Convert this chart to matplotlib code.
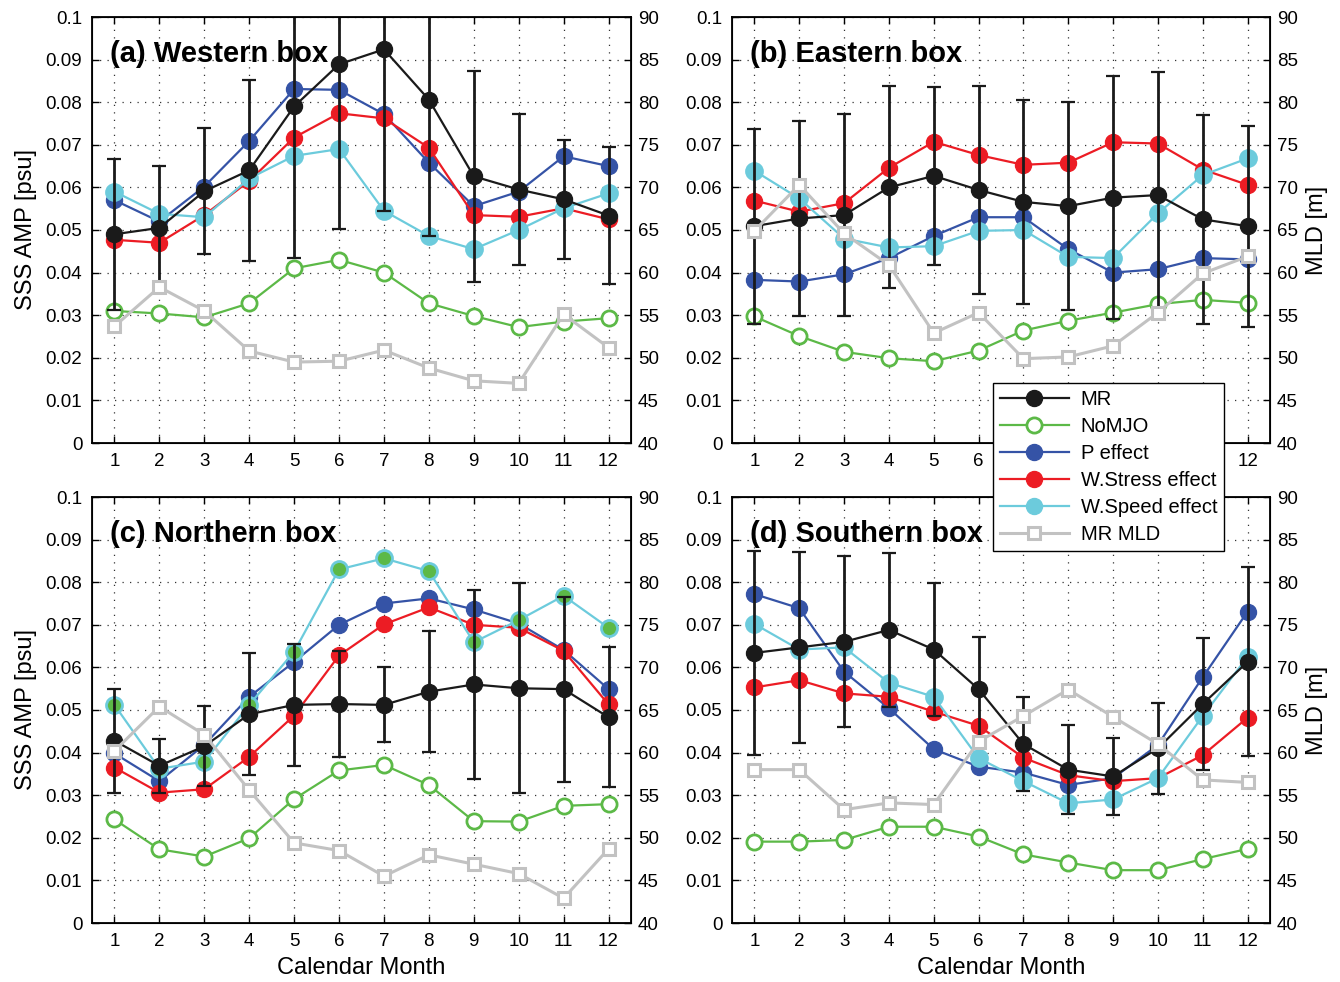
import numpy as np
import matplotlib
matplotlib.use("Agg")
import matplotlib.pyplot as plt
from matplotlib.lines import Line2D

plt.rcParams['font.family'] = ['Liberation Sans', 'DejaVu Sans']

months = np.arange(1, 13)

# ---- (a) Western box ----
mr_w = [0.0490, 0.0505, 0.0591, 0.0640, 0.0790, 0.0889, 0.0924, 0.0806, 0.0626, 0.0595, 0.0572, 0.0534]
mr_std_w = [0.0177, 0.0145, 0.0148, 0.0212, 0.0356, 0.0387, 0.0380, 0.0320, 0.0247, 0.0178, 0.0139, 0.0160]
nomjo_w = [0.0310, 0.0304, 0.0295, 0.0328, 0.0410, 0.0430, 0.0400, 0.0328, 0.0298, 0.0272, 0.0285, 0.0293]
peff_w = [0.0570, 0.0520, 0.0602, 0.0709, 0.0831, 0.0829, 0.0772, 0.0658, 0.0556, 0.0590, 0.0673, 0.0650]
wstress_w = [0.0477, 0.0470, 0.0535, 0.0615, 0.0717, 0.0774, 0.0762, 0.0693, 0.0535, 0.0531, 0.0551, 0.0525]
wspeed_w = [0.0590, 0.0538, 0.0530, 0.0621, 0.0674, 0.0690, 0.0545, 0.0486, 0.0455, 0.0500, 0.0551, 0.0586]
mld_w = [53.7, 58.3, 55.5, 50.8, 49.5, 49.6, 50.9, 48.8, 47.3, 47.0, 55.1, 51.2]

# ---- (b) Eastern box ----
mr_e = [0.0509, 0.0527, 0.0535, 0.0600, 0.0627, 0.0594, 0.0566, 0.0556, 0.0576, 0.0582, 0.0525, 0.0509]
mr_std_e = [0.0229, 0.0228, 0.0237, 0.0237, 0.0209, 0.0245, 0.0239, 0.0244, 0.0286, 0.0290, 0.0245, 0.0236]
nomjo_e = [0.0297, 0.0251, 0.0214, 0.0199, 0.0192, 0.0217, 0.0264, 0.0287, 0.0306, 0.0326, 0.0336, 0.0329]
peff_e = [0.0383, 0.0379, 0.0396, 0.0434, 0.0486, 0.0530, 0.0530, 0.0455, 0.0400, 0.0408, 0.0434, 0.0431]
wstress_e = [0.0569, 0.0543, 0.0563, 0.0646, 0.0707, 0.0676, 0.0653, 0.0658, 0.0706, 0.0703, 0.0642, 0.0606]
wspeed_e = [0.0639, 0.0574, 0.0480, 0.0459, 0.0462, 0.0498, 0.0500, 0.0437, 0.0434, 0.0539, 0.0629, 0.0668]
mld_e = [64.9, 70.3, 64.6, 60.9, 52.9, 55.3, 49.9, 50.1, 51.4, 55.3, 59.9, 61.9]

# ---- (c) Northern box ----
mr_n = [0.0428, 0.0369, 0.0415, 0.0490, 0.0512, 0.0514, 0.0512, 0.0543, 0.0560, 0.0551, 0.0549, 0.0483]
mr_std_n = [0.0122, 0.0064, 0.0094, 0.0143, 0.0143, 0.0124, 0.0088, 0.0142, 0.0222, 0.0247, 0.0217, 0.0164]
nomjo_n = [0.0243, 0.0173, 0.0156, 0.0199, 0.0291, 0.0358, 0.0371, 0.0324, 0.0239, 0.0238, 0.0275, 0.0279]
peff_n = [0.0398, 0.0333, 0.0418, 0.0531, 0.0613, 0.0700, 0.0750, 0.0762, 0.0736, 0.0703, 0.0641, 0.0549]
wstress_n = [0.0365, 0.0306, 0.0314, 0.0390, 0.0487, 0.0628, 0.0701, 0.0741, 0.0700, 0.0693, 0.0639, 0.0513]
wspeed_n = [0.0512, 0.0362, 0.0379, 0.0512, 0.0637, 0.0830, 0.0856, 0.0826, 0.0659, 0.0711, 0.0768, 0.0693]
mld_n = [60.2, 65.4, 62.1, 55.6, 49.4, 48.5, 45.5, 48.0, 46.9, 45.8, 42.9, 48.7]

# ---- (d) Southern box ----
mr_s = [0.0634, 0.0647, 0.0660, 0.0688, 0.0642, 0.0549, 0.0420, 0.0360, 0.0344, 0.0410, 0.0514, 0.0613]
mr_std_s = [0.0240, 0.0225, 0.0201, 0.0180, 0.0157, 0.0122, 0.0110, 0.0105, 0.0090, 0.0107, 0.0156, 0.0222]
nomjo_s = [0.0191, 0.0191, 0.0195, 0.0226, 0.0226, 0.0203, 0.0161, 0.0142, 0.0124, 0.0124, 0.0150, 0.0174]
peff_s = [0.0772, 0.0739, 0.0590, 0.0504, 0.0408, 0.0367, 0.0353, 0.0324, 0.0340, 0.0418, 0.0577, 0.0731]
wstress_s = [0.0553, 0.0570, 0.0539, 0.0531, 0.0496, 0.0463, 0.0388, 0.0347, 0.0333, 0.0340, 0.0394, 0.0482]
wspeed_s = [0.0702, 0.0642, 0.0647, 0.0564, 0.0531, 0.0387, 0.0333, 0.0281, 0.0290, 0.0340, 0.0486, 0.0625]
mld_s = [58.0, 58.0, 53.3, 54.1, 53.9, 61.3, 64.3, 67.4, 64.2, 61.0, 56.8, 56.5]

titles = ['(a) Western box', '(b) Eastern box', '(c) Northern box', '(d) Southern box']
legend_names = ['MR', 'NoMJO', 'P effect', 'W.Stress effect', 'W.Speed effect', 'MR MLD']
left_ticks = ['0', '0.01', '0.02', '0.03', '0.04', '0.05', '0.06', '0.07', '0.08', '0.09', '0.1']

c_mr = '#1a1a1a'
c_nomjo = '#5cb947'
c_p = '#3553a6'
c_ws = '#ec1c24'
c_sp = '#6ccbdc'
c_mld = '#c2c2c2'

panels = [
    (mr_w, mr_std_w, nomjo_w, peff_w, wstress_w, wspeed_w, mld_w),
    (mr_e, mr_std_e, nomjo_e, peff_e, wstress_e, wspeed_e, mld_e),
    (mr_n, mr_std_n, nomjo_n, peff_n, wstress_n, wspeed_n, mld_n),
    (mr_s, mr_std_s, nomjo_s, peff_s, wstress_s, wspeed_s, mld_s),
]

# axes boxes in pixels (left, right, top, bottom) of the 1340x982 figure
boxes = [(92, 631, 17, 443), (732, 1270, 17, 443), (92, 631, 497, 923), (732, 1270, 497, 923)]

W, H = 1340, 982
fig = plt.figure(figsize=(W / 100, H / 100), dpi=100)

lw = 1.6
ms = 11.5

for i, (mr, mr_std, nomjo, peff, wstress, wspeed, mld) in enumerate(panels):
    l, r, t, b = boxes[i]
    ax = fig.add_axes([l / W, 1 - b / H, (r - l) / W, (b - t) / H])

    ax.plot(months, nomjo, '-o', color=c_nomjo, lw=lw, ms=ms * 0.95, mfc='white', mec=c_nomjo, mew=2, zorder=3)
    ax.plot(months, peff, '-o', color=c_p, lw=lw, ms=ms, mfc=c_p, mec=c_p, zorder=4)
    ax.plot(months, wstress, '-o', color=c_ws, lw=lw, ms=ms, mfc=c_ws, mec=c_ws, zorder=5)
    # in the Northern box the W.Speed markers have a green face
    face = c_nomjo if i == 2 else c_sp
    ax.plot(months, wspeed, '-o', color=c_sp, lw=lw, ms=ms, mfc=face, mec=c_sp, mew=2, zorder=6)
    ax.errorbar(months, mr, yerr=mr_std, fmt='-o', color=c_mr, lw=lw, ms=ms, elinewidth=2,
                capsize=5, capthick=1.6, zorder=7)

    ax.set_xlim(0.5, 12.5)
    ax.set_ylim(0, 0.1)
    ax.set_xticks(months)
    ax.set_yticks(np.arange(0, 0.1001, 0.01))
    ax.set_yticklabels(left_ticks)
    ax.grid(True, linestyle=(0, (1, 5)), color='#333333', lw=0.9)
    ax.tick_params(direction='in', length=5, width=1, labelsize=13.5, top=True, pad=7)
    ax.tick_params(axis='y', right=False)
    for s in ax.spines.values():
        s.set_linewidth(1.3)
    ax.text(0.033, 0.945, titles[i], transform=ax.transAxes, fontsize=21, fontweight='bold',
            va='top', ha='left', zorder=10)

    ax2 = ax.twinx()
    ax2.plot(months, mld, '-s', color=c_mld, lw=2.2, ms=9, mfc='white', mec=c_mld, mew=2.2)
    ax2.set_ylim(40, 90)
    ax2.set_yticks(np.arange(40, 91, 5))
    ax2.tick_params(direction='in', length=5, width=1, labelsize=13.5, pad=5)

    if i in (0, 2):
        ax.set_ylabel('SSS AMP [psu]', fontsize=17, labelpad=6)
    else:
        ax2.set_ylabel('MLD [m]', fontsize=17, labelpad=6)
    if i in (2, 3):
        ax.set_xlabel('Calendar Month', fontsize=17, labelpad=5)

handles = [
    Line2D([], [], color=c_mr, lw=lw, marker='o', ms=ms, mfc=c_mr),
    Line2D([], [], color=c_nomjo, lw=lw, marker='o', ms=ms * 0.95, mfc='white', mew=2),
    Line2D([], [], color=c_p, lw=lw, marker='o', ms=ms, mfc=c_p),
    Line2D([], [], color=c_ws, lw=lw, marker='o', ms=ms, mfc=c_ws),
    Line2D([], [], color=c_sp, lw=lw, marker='o', ms=ms, mfc=c_sp),
    Line2D([], [], color=c_mld, lw=2.2, marker='s', ms=9, mfc='white', mew=2.2),
]
leg = fig.legend(handles, legend_names, loc='upper left', bbox_to_anchor=(993 / W, 1 - 383 / H),
                 fontsize=14.5, frameon=True, fancybox=False, edgecolor='black', framealpha=1,
                 borderaxespad=0, handlelength=3.4, labelspacing=0.4, borderpad=0.35,
                 handletextpad=0.6)
leg.get_frame().set_linewidth(1.0)
leg.set_zorder(20)

fig.savefig('out.png', dpi=100)
